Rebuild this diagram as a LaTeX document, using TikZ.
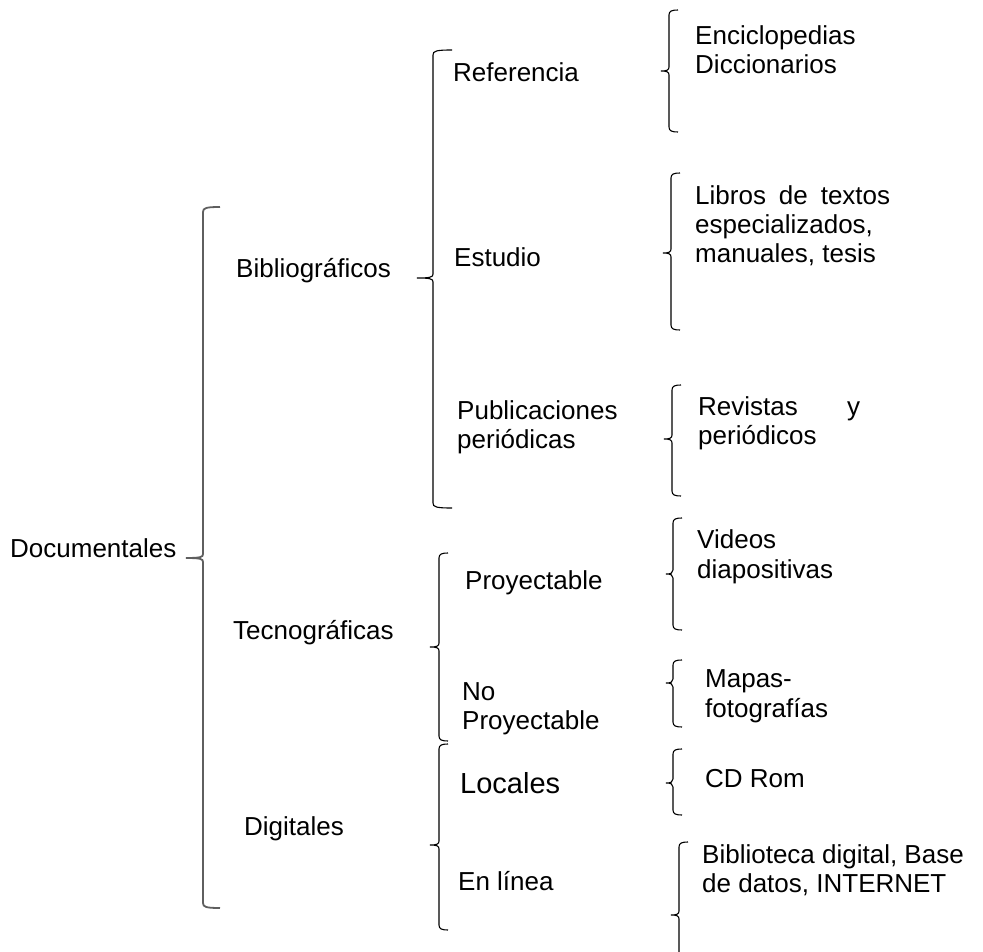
\documentclass[tikz,border=0pt]{standalone}
\usepackage{fontspec}
\setmainfont{Liberation Sans}
% brace: [style]{x}{hook end x}{top}{tip}{bottom}{tip x}
\newcommand\bracepath[7][]{%
  \draw[brc,#1] (#3,#4) .. controls (#2+3,#4) and (#2,#4+1) .. (#2,#4+5)
     -- (#2,#5-4) .. controls (#2,#5-1) and (#2-2,#5) .. (#7,#5)
     .. controls (#2-2,#5) and (#2,#5+1) .. (#2,#5+4)
     -- (#2,#6-5) .. controls (#2,#6-1) and (#2+3,#6) .. (#3,#6);}
\tikzset{
  brc/.style={draw=black, line width=1.1pt},
  mainbrc/.style={draw={rgb,255:red,95;green,95;blue,95}, line width=1.8pt},
  lbl/.style={anchor=base west, inner sep=0pt, text=black,
              font=\fontsize{26}{29}\selectfont},
  biglbl/.style={lbl, font=\fontsize{29}{32}\selectfont}
}
\begin{document}
\begin{tikzpicture}[x=1pt,y=-1pt]
\useasboundingbox (0,0) rectangle (983,952);
% braces
\bracepath[mainbrc]{203}{220}{207}{558}{908}{186}
\bracepath{433}{452}{50}{278}{508}{417}
\bracepath{439}{448}{553}{647}{741}{430}
\bracepath{439}{448}{744}{845}{930}{430}
\bracepath{669}{678}{10}{71}{132}{661}
\bracepath{671}{680}{173}{253}{330}{663}
\bracepath{672}{681}{385}{439}{496}{664}
\bracepath{673}{682}{518}{574}{630}{666}
\bracepath{673}{682}{660}{683}{727}{666}
\bracepath{673}{682}{749}{783}{815}{666}
\bracepath{679}{688}{842}{915}{960}{671}
% level 1
\node[lbl] (doc) at (10,557) {Documentales};
\node[lbl] (bib) at (236,277) {Bibliográficos};
\node[lbl] (tec) at (233,639) {Tecnográficas};
\node[lbl] (dig) at (244,835) {Digitales};
% level 2
\node[lbl] (ref) at (453,82) {Referencia};
\node[lbl] (est) at (454,266) {Estudio};
\node[lbl] (pub1) at (457,419) {Publicaciones};
\node[lbl] (pub2) at (457,448) {periódicas};
\node[lbl] (pro) at (465,589) {Proyectable};
\node[lbl] (nop1) at (462,700) {No};
\node[lbl] (nop2) at (462,729) {Proyectable};
\node[biglbl] (loc) at (460,793) {Locales};
\node[lbl] (lin) at (458,890) {En línea};
% level 3
\node[lbl] (enc) at (695,45) {Enciclopedias};
\node[lbl] (dic) at (695,74) {Diccionarios};
\node[lbl] (lib1) at (695,205) {\makebox[195pt][s]{Libros de textos}};
\node[lbl] (lib2) at (695,234) {especializados,};
\node[lbl] (lib3) at (695,262) {manuales, tesis};
\node[lbl] (rev1) at (698,415) {\makebox[162pt][s]{Revistas y}};
\node[lbl] (rev2) at (698,444) {periódicos};
\node[lbl] (vid1) at (697,548) {Videos};
\node[lbl] (vid2) at (697,578) {diapositivas};
\node[lbl] (map1) at (705,687) {Mapas-};
\node[lbl] (map2) at (705,717) {fotografías};
\node[lbl] (cd) at (705,787) {CD Rom};
\node[lbl] (bd1) at (702,863) {Biblioteca digital, Base};
\node[lbl] (bd2) at (702,892) {de datos, INTERNET};
\end{tikzpicture}
\end{document}
